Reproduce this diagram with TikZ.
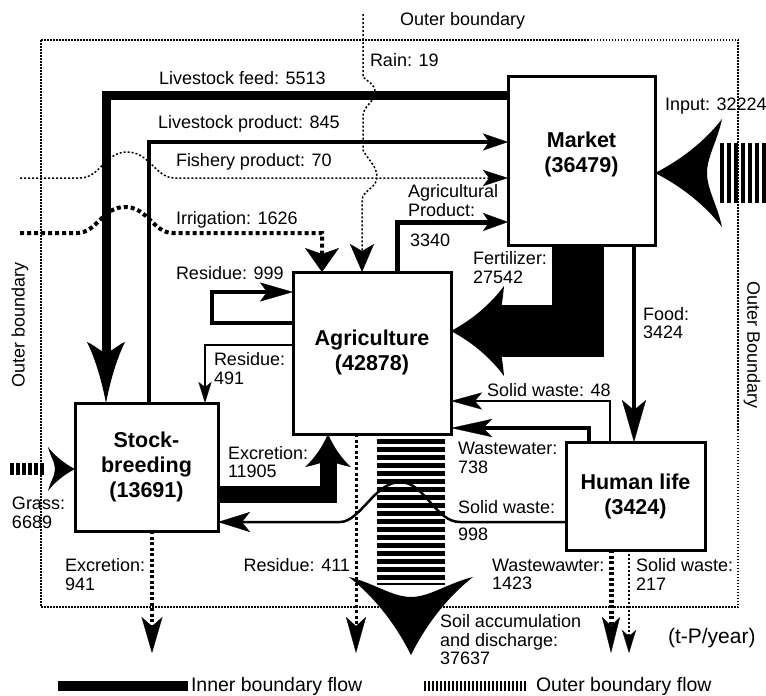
\documentclass[tikz,border=0pt]{standalone}
\usepackage{fontspec}
\setmainfont{Liberation Sans}
\usetikzlibrary{arrows.meta}
\begin{document}
\begin{tikzpicture}[x=1pt,y=-1pt,
  font=\fontsize{18}{18.5}\selectfont,
  lbl/.style={inner sep=0pt, outer sep=0pt, anchor=west, align=left},
  box/.style={draw, line width=3pt, fill=white, inner sep=0pt, outer sep=0pt, rectangle},
  boxtxt/.style={inner sep=0pt, font=\fontsize{21.5}{25}\selectfont\bfseries, align=center},
  ah/.style args={#1/#2/#3}{-{Stealth[length=#1pt,width=#2pt,inset=#3pt,line width=0.3pt]}},
  bdot/.style={line width=1.3pt, dash pattern=on 1.5pt off 1.5pt},
  pics/fhead/.style args={#1/#2/#3}{code={
    \fill (0,0) .. controls (-0.4*#1,0.25*#2) and (-0.75*#1,0.6*#2) .. (-#1,#2)
      .. controls (-#1+0.3*#3,0.6*#2) and (-#1+#3,0.3*#2) .. (-#1+#3,0)
      .. controls (-#1+#3,-0.3*#2) and (-#1+0.3*#3,-0.6*#2) .. (-#1,-#2)
      .. controls (-0.75*#1,-0.6*#2) and (-0.4*#1,-0.25*#2) .. (0,0) -- cycle;
  }}
]
\useasboundingbox (0,0) rectangle (766,696);

% boxes
\node[box, minimum width=147pt, minimum height=169pt] (market) at (581.5,160.5) {};
\node[box, minimum width=158pt, minimum height=162pt] (agri) at (372,353) {};
\node[box, minimum width=143pt, minimum height=128pt] (stock) at (146.5,467) {};
\node[box, minimum width=139pt, minimum height=108pt] (human) at (635.5,496) {};

% outer boundary
\draw[bdot] (41,40) rectangle (738,607);

% Input (outer flow)
\coordinate (inputin) at (766,173);
\draw[line width=60pt, dash pattern=on 4pt off 3pt, shorten >=63pt] (inputin) -- (market.east |- inputin);
\pic[rotate=180] at (market.east |- inputin) {fhead=67/54/15};

% Grass
\coordinate (grassin) at (10,469);
\draw[line width=12pt, dash pattern=on 3.5pt off 2.5pt, shorten >=30pt] (grassin) -- (stock.west |- grassin);
\pic at (stock.west |- grassin) {fhead=27/22/7};

% Soil accumulation
\coordinate (soilout) at (411,655);
\draw[line width=68pt, dash pattern=on 4.5pt off 3.5pt, shorten <=5pt, shorten >=70pt] (agri.south -| soilout) -- (soilout);
\pic[rotate=-90] at (soilout) {fhead=78/62/20};

% Fertilizer
\draw[line width=52pt, shorten >=48pt] (market.south -| 578,0) |- (agri.east |- 0,331);
\pic[rotate=180] at (agri.east |- 0,331) {fhead=53/45/5};

% Livestock feed
\draw[line width=9pt, shorten >=51pt] (market.west |- 0,95.5) -| (stock.north -| 106,0);
\pic[rotate=-90] at (stock.north -| 106,0) {fhead=61/19/10};

% Livestock product
\draw[line width=3.5pt, ah=25/17/6] (stock.north -| 149,0) |- (market.west |- 0,142);

% Fishery product
\coordinate (fishin) at (20,178);
\draw[line width=1.5pt, dash pattern=on 2pt off 2pt, ah=25/16/6] (fishin) -- (80,178)
  .. controls (100,178) and (105,152) .. (127,152)
  .. controls (150,152) and (155,178) .. (175,178) -- (market.west |- fishin);

% Irrigation
\coordinate (irrin) at (20,233);
\draw[line width=4pt, dash pattern=on 4pt off 3pt, ah=24/34/6] (irrin) -- (77,233)
  .. controls (97,233) and (102,207) .. (125,207)
  .. controls (148,207) and (153,233) .. (173,233) -| (agri.north -| 322,0);

% Rain
\coordinate (rainin) at (363,14);
\draw[line width=1.5pt, dash pattern=on 2pt off 2pt, ah=28/24/7] (rainin) -- (363,77)
  .. controls (368,82) and (375,84) .. (375,92)
  .. controls (375,102) and (363,106) .. (363,116) -- (363,150)
  .. controls (368,160) and (377,166) .. (377,177)
  .. controls (377,188) and (363,190) .. (362,200) -- (agri.north -| 362,0);

% Agricultural product
\draw[line width=5pt, ah=25/18/6] (agri.north -| 397,0) |- (market.west |- 0,222);

% Residue 999
\draw[line width=3.5pt, ah=33/19/7] (agri.west |- 0,323) -| (212,292) -- (agri.west |- 0,292);

% Residue 491
\draw[line width=1.5pt, ah=21/13/5] (agri.west |- 0,345) -| (stock.north -| 205,0);

% Food
\draw[line width=4pt, ah=42/24/10] (market.south -| 634,0) -- (human.north -| 634,0);

% Solid waste 48
\draw[line width=2pt, ah=31/17/7] (human.north -| 610,0) |- (agri.east |- 0,401);

% Wastewater 738
\draw[line width=3.5pt, ah=41/18/9] (human.north -| 589,0) |- (agri.east |- 0,428);

% Excretion 11905
\draw[line width=17pt, shorten >=28pt] (stock.east |- 0,494) -| (agri.south -| 328,0);
\pic[rotate=90] at (agri.south -| 328,0) {fhead=33/23/5};

% Solid waste 998
\draw[line width=2.5pt, ah=32/20/8] (human.west |- 0,522) -- (460,522)
  .. controls (435,522) and (425,482) .. (400,482)
  .. controls (375,482) and (360,522) .. (340,522) -- (stock.east |- 0,522);

% Outflows
\coordinate (exout) at (152,653);
\draw[line width=4pt, dash pattern=on 3pt off 2.5pt, ah=36/21/9] (stock.south -| exout) -- (exout);
\coordinate (resout) at (356,653);
\draw[line width=3pt, dash pattern=on 3pt off 2.5pt, ah=36/20/9] (agri.south -| resout) -- (resout);
\coordinate (wwout) at (611,653);
\draw[line width=5pt, dash pattern=on 3pt off 2.5pt, ah=36/18/9] (human.south -| wwout) -- (wwout);
\coordinate (swout) at (629,653);
\draw[line width=2pt, dash pattern=on 2pt off 2pt, ah=23/14/6] (human.south -| swout) -- (swout);

% box texts
\node[boxtxt] (markettxt) at (581.5,154) {Market\\(36479)};
\node[boxtxt] (agritxt) at (372,352) {Agriculture\\(42878)};
\node[boxtxt] (stocktxt) at (146.5,467) {Stock-\\breeding\\(13691)};
\node[boxtxt] (humantxt) at (635.5,496) {Human life\\(3424)};

% labels
\node[lbl] (l1) at (400,21) {Outer boundary};
\node[lbl] (l2) at (370,60) {Rain: 19};
\node[lbl] (l3) at (159,78) {Livestock feed: 5513};
\node[lbl] (l4) at (158,124) {Livestock product: 845};
\node[lbl] (l5) at (176,162) {Fishery product: 70};
\node[lbl] (l6) at (176,220) {Irrigation: 1626};
\node[lbl] (l7) at (665,106) {Input: 32224};
\node[lbl] (l8) at (408,200.5) {Agricultural\\Product:};
\node[lbl] (l9) at (410,240) {3340};
\node[lbl] (l10) at (176,273) {Residue: 999};
\node[lbl] (l11) at (214,368.5) {Residue:\\491};
\node[lbl] (l12) at (473,267.5) {Fertilizer:\\27542};
\node[lbl] (l13) at (643,323) {Food:\\3424};
\node[lbl] (l14) at (487,390) {Solid waste: 48};
\node[lbl] (l15) at (458,458) {Wastewater:\\738};
\node[lbl] (l16) at (228,462) {Excretion:\\11905};
\node[lbl] (l17) at (12,513) {Grass:\\6689};
\node[lbl] (l18) at (458,507) {Solid waste:};
\node[lbl] (l19) at (458,534) {998};
\node[lbl] (l20) at (65,574.5) {Excretion:\\941};
\node[lbl, anchor=east] (l21) at (350,565) {Residue: 411};
\node[lbl] (l22) at (492,574.5) {Wastewawter:\\1423};
\node[lbl] (l23) at (636,574.5) {Solid waste:\\217};
\node[lbl] (l24) at (440,640) {Soil accumulation\\and discharge:\\37637};
\node[lbl, font=\fontsize{21}{22}\selectfont] (l25) at (668,638) {(t-P/year)};
\node[lbl, anchor=center, rotate=90] (l26) at (20,325) {Outer boundary};
\node[lbl, anchor=center, rotate=-90] (l27) at (752,345) {Outer Boundary};

% legend
\fill (58,681) rectangle (188,691);
\node[lbl, font=\fontsize{19.5}{20}\selectfont] (leg1) at (191,686) {Inner boundary flow};
\draw[line width=10pt, dash pattern=on 2pt off 2pt] (424,686) -- (527,686);
\node[lbl, font=\fontsize{19.5}{20}\selectfont] (leg2) at (536,686) {Outer boundary flow};
\end{tikzpicture}
\end{document}
